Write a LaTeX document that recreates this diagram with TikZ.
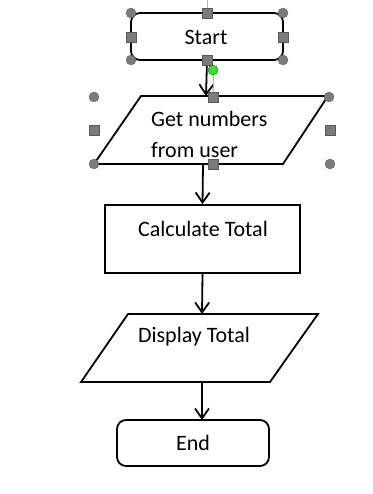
\documentclass[tikz,border=0pt]{standalone}
\usepackage{fontspec}
\setmainfont{Carlito}
\usetikzlibrary{arrows.meta}
\begin{document}
\begin{tikzpicture}[x=1pt,y=-1pt,
  every node/.style={font=\fontsize{22}{24}\selectfont},
  term/.style={draw, line width=1.8pt, rounded corners=9pt, inner sep=0pt},
  procbox/.style={draw, line width=1.8pt, inner sep=0pt},
  para/.style={draw, line width=1.8pt, line join=miter},
  flow/.style={line width=1.8pt, -{Straight Barb[length=10pt,width=14pt,line width=1.8pt]}},
  hcirc/.style={circle, fill=gray!85!black!90, draw=gray!70!black, line width=0.3pt, minimum size=10pt, inner sep=0pt},
  hsq/.style={rectangle, fill=gray!85!black!90, draw=gray!70!black, line width=0.3pt, minimum size=9.5pt, inner sep=0pt},
  hline/.style={draw=gray!60, line width=0.8pt}
]
\useasboundingbox[fill=white] (0,0) rectangle (372,494);

% Start
\node[term, minimum width=152pt, minimum height=47pt] (start) at (207,36.5) {};
\node (starttxt) at (206,37) {Start};

% Parallelogram 1
\coordinate (p1tl) at (141,96);
\coordinate (p1tr) at (328,96);
\coordinate (p1br) at (283,164);
\coordinate (p1bl) at (94,164);
\draw[para] (p1tl) -- (p1tr) -- (p1br) -- (p1bl) -- cycle;
\coordinate (p1top) at (206,96);
\coordinate (p1bot) at (203,164);
\node[anchor=west, inner sep=0pt] (gettxt) at (151,119) {Get numbers};
\node[anchor=west, inner sep=0pt] (fromtxt) at (151,150) {from user};

% Calculate
\node[procbox, minimum width=195pt, minimum height=68pt] (calc) at (202.5,239) {};
\node (calctxt) at (203,229) {Calculate Total};

% Parallelogram 2
\coordinate (p2tl) at (128,314);
\coordinate (p2tr) at (318,314);
\coordinate (p2br) at (270,382);
\coordinate (p2bl) at (81,382);
\draw[para] (p2tl) -- (p2tr) -- (p2br) -- (p2bl) -- cycle;
\coordinate (p2top) at (202,314);
\coordinate (p2bot) at (202,382);
\node (disptxt) at (194,337) {Display Total};

% End
\node[term, minimum width=152pt, minimum height=46pt] (endn) at (193,443) {};
\coordinate (endtop) at (202,420);
\node (endtxt) at (193,443) {End};

% Connectors
\draw[flow] (start.south) -- (p1top);
\draw[flow] (p1bot) -- (calc.north);
\draw[flow] (calc.south) -- (p2top);
\draw[flow] (p2bot) -- (endtop);

% Selection handles (Start)
\draw[hline] (207,0) -- (start.north);
\draw[hline] (213,70) -- (213,97);
\foreach \p/\n in {{131,13}/a1,{283,13}/a2,{131,60}/a3,{283,60}/a4}
  \node[hcirc] (\n) at (\p) {};
\foreach \p/\n in {{207,13}/b1,{131,37}/b2,{283,37}/b3,{207,60}/b4}
  \node[hsq] (\n) at (\p) {};
% Selection handles (parallelogram 1)
\foreach \p/\n in {{94,97}/c1,{329,97}/c2,{94,164}/c3,{330,164}/c4}
  \node[hcirc] (\n) at (\p) {};
\foreach \p/\n in {{94,130}/d1,{330,130}/d2,{213,97}/d3,{213,164}/d4}
  \node[hsq] (\n) at (\p) {};
% green rotation handle
\node[circle, fill=green!85!black!80, draw=green!50!black, line width=0.4pt, minimum size=10pt, inner sep=0pt] (rot) at (213,70) {};
\end{tikzpicture}
\end{document}
